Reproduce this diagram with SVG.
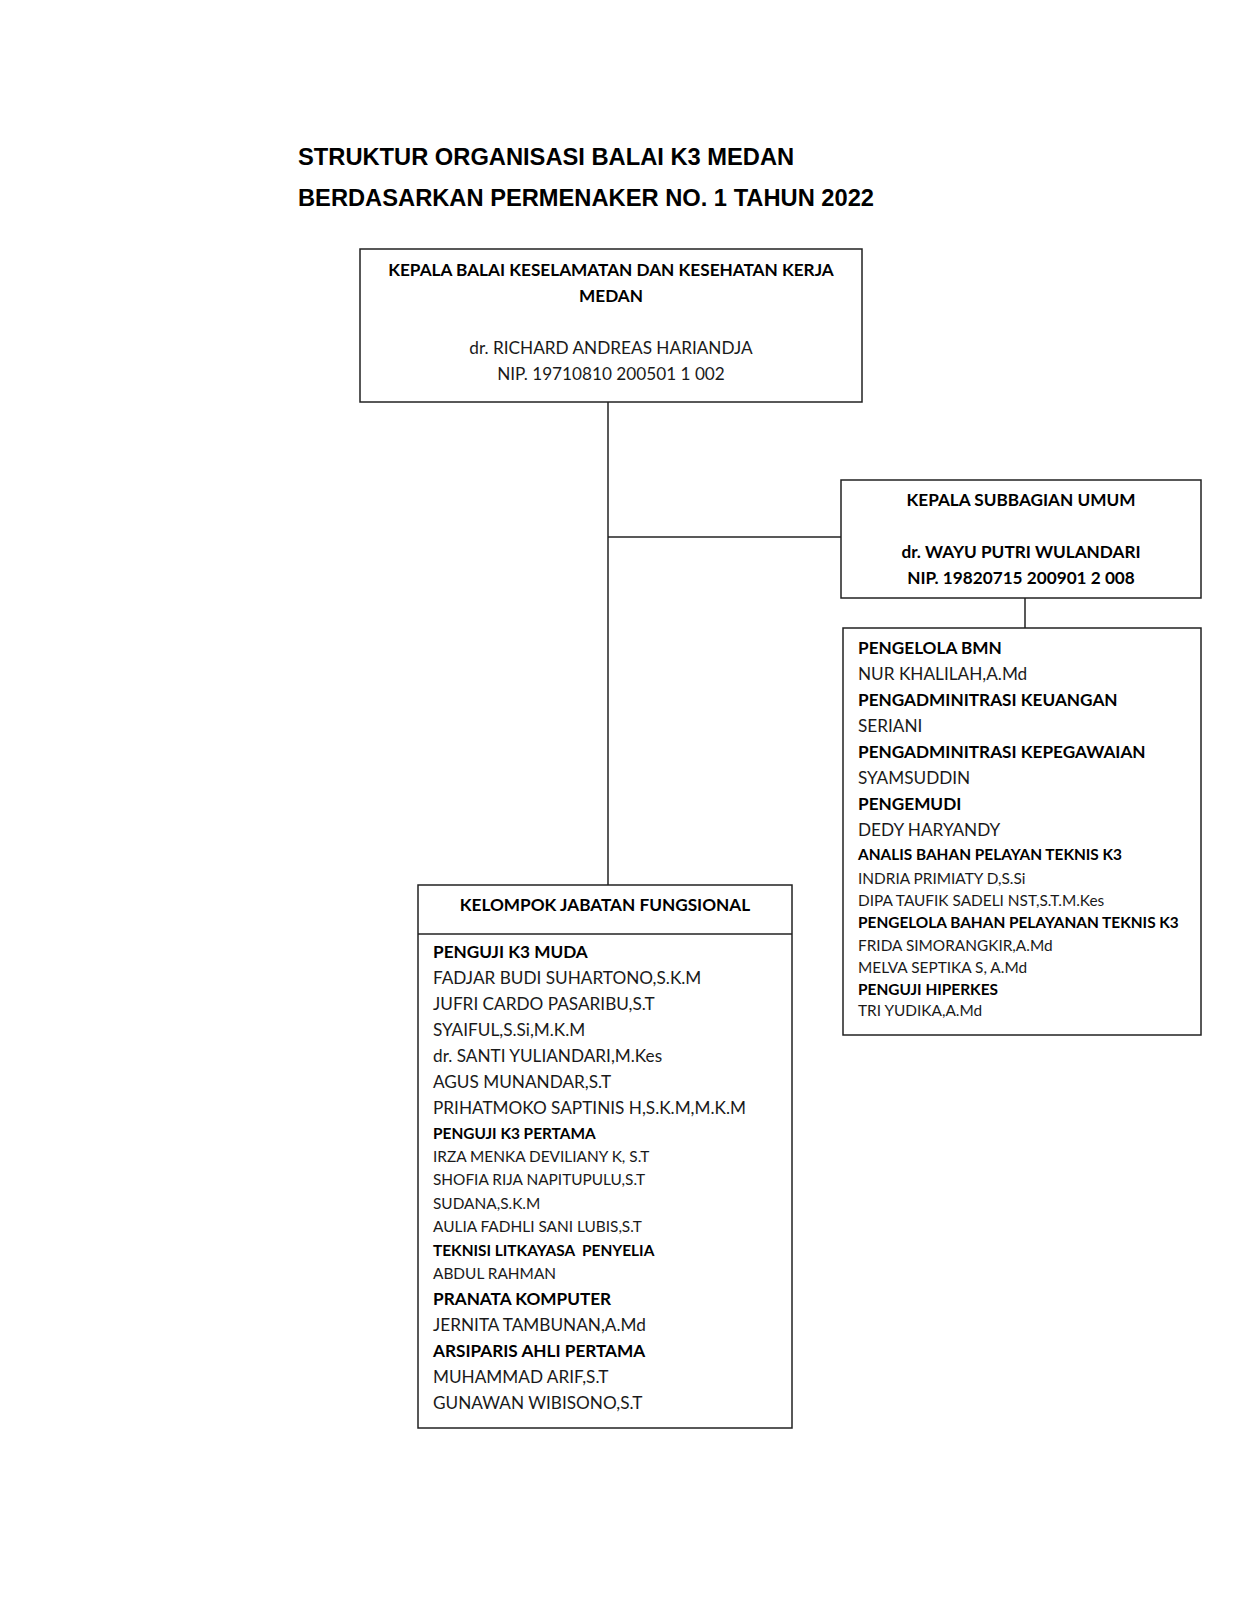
<svg xmlns="http://www.w3.org/2000/svg" width="1236" height="1600" viewBox="0 0 1236 1600">
<style>
.title{font-family:"Liberation Sans",Arial,sans-serif;font-weight:bold;font-size:23.7px;fill:#000}
.b{font-family:Lato,"Open Sans",sans-serif;font-weight:bold;font-size:17.2px;fill:#000}
.n{font-family:Lato,"Open Sans",sans-serif;font-size:17.2px;fill:#1a1a1a}
.bs{font-family:Lato,"Open Sans",sans-serif;font-weight:bold;font-size:15.4px;fill:#000}
.ns{font-family:Lato,"Open Sans",sans-serif;font-size:15.4px;fill:#1a1a1a}
.box{fill:#fff;stroke:#222;stroke-width:1.5}
.ln{stroke:#222;stroke-width:1.5;fill:none}
.c{text-anchor:middle}
</style>
<rect width="1236" height="1600" fill="#fff"/>
<g id="title">
<text class="title" x="298" y="165">STRUKTUR ORGANISASI BALAI K3 MEDAN</text>
<text class="title" x="298" y="206">BERDASARKAN PERMENAKER NO. 1 TAHUN 2022</text>
</g>
<g id="connectors">
<line class="ln" x1="608" y1="402" x2="608" y2="885"/>
<line class="ln" x1="608" y1="537" x2="841" y2="537"/>
<line class="ln" x1="1025" y1="598" x2="1025" y2="628"/>
</g>
<g id="kepala">
<rect class="box" x="360" y="249" width="502" height="153"/>
<text class="b c" x="611" y="276">KEPALA BALAI KESELAMATAN DAN KESEHATAN KERJA</text>
<text class="b c" x="611" y="302">MEDAN</text>
<text class="n c" x="611" y="354">dr. RICHARD ANDREAS HARIANDJA</text>
<text class="n c" x="611" y="380">NIP. 19710810 200501 1 002</text>
</g>
<g id="subbagian">
<rect class="box" x="841" y="480" width="360" height="118"/>
<text class="b c" x="1021" y="506">KEPALA SUBBAGIAN UMUM</text>
<text class="b c" x="1021" y="558">dr. WAYU PUTRI WULANDARI</text>
<text class="b c" x="1021" y="584">NIP. 19820715 200901 2 008</text>
</g>
<g id="staf-umum">
<rect class="box" x="843" y="628" width="358" height="407"/>
<text class="b" x="858" y="654">PENGELOLA BMN</text>
<text class="n" x="858" y="680">NUR KHALILAH,A.Md</text>
<text class="b" x="858" y="706">PENGADMINITRASI KEUANGAN</text>
<text class="n" x="858" y="732">SERIANI</text>
<text class="b" x="858" y="758">PENGADMINITRASI KEPEGAWAIAN</text>
<text class="n" x="858" y="784">SYAMSUDDIN</text>
<text class="b" x="858" y="810">PENGEMUDI</text>
<text class="n" x="858" y="836">DEDY HARYANDY</text>
<text class="bs" x="858" y="860">ANALIS BAHAN PELAYAN TEKNIS K3</text>
<text class="ns" x="858" y="884">INDRIA PRIMIATY D,S.Si</text>
<text class="ns" x="858" y="906">DIPA TAUFIK SADELI NST,S.T.M.Kes</text>
<text class="bs" x="858" y="928">PENGELOLA BAHAN PELAYANAN TEKNIS K3</text>
<text class="ns" x="858" y="951">FRIDA SIMORANGKIR,A.Md</text>
<text class="ns" x="858" y="973">MELVA SEPTIKA S, A.Md</text>
<text class="bs" x="858" y="995">PENGUJI HIPERKES</text>
<text class="ns" x="858" y="1016">TRI YUDIKA,A.Md</text>
</g>
<g id="fungsional">
<rect class="box" x="418" y="885" width="374" height="543"/>
<line class="ln" x1="418" y1="934" x2="792" y2="934"/>
<text class="b c" x="605" y="911">KELOMPOK JABATAN FUNGSIONAL</text>
<text class="b" x="433" y="958">PENGUJI K3 MUDA</text>
<text class="n" x="433" y="984">FADJAR BUDI SUHARTONO,S.K.M</text>
<text class="n" x="433" y="1010">JUFRI CARDO PASARIBU,S.T</text>
<text class="n" x="433" y="1036">SYAIFUL,S.Si,M.K.M</text>
<text class="n" x="433" y="1062">dr. SANTI YULIANDARI,M.Kes</text>
<text class="n" x="433" y="1088">AGUS MUNANDAR,S.T</text>
<text class="n" x="433" y="1114">PRIHATMOKO SAPTINIS H,S.K.M,M.K.M</text>
<text class="bs" x="433" y="1139">PENGUJI K3 PERTAMA</text>
<text class="ns" x="433" y="1162">IRZA MENKA DEVILIANY K, S.T</text>
<text class="ns" x="433" y="1185">SHOFIA RIJA NAPITUPULU,S.T</text>
<text class="ns" x="433" y="1209">SUDANA,S.K.M</text>
<text class="ns" x="433" y="1232">AULIA FADHLI SANI LUBIS,S.T</text>
<text class="bs" x="433" y="1256" xml:space="preserve">TEKNISI LITKAYASA  PENYELIA</text>
<text class="ns" x="433" y="1279">ABDUL RAHMAN</text>
<text class="b" x="433" y="1305">PRANATA KOMPUTER</text>
<text class="n" x="433" y="1331">JERNITA TAMBUNAN,A.Md</text>
<text class="b" x="433" y="1357">ARSIPARIS AHLI PERTAMA</text>
<text class="n" x="433" y="1383">MUHAMMAD ARIF,S.T</text>
<text class="n" x="433" y="1409">GUNAWAN WIBISONO,S.T</text>
</g>
</svg>
